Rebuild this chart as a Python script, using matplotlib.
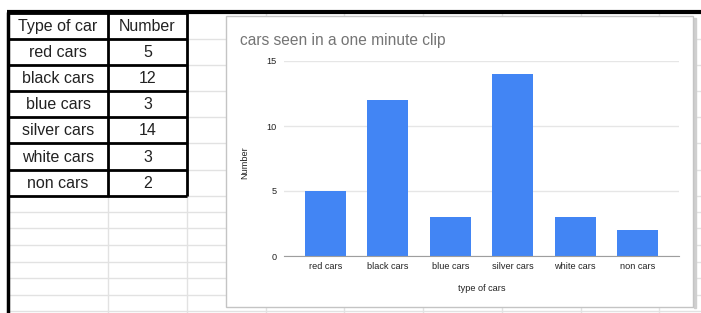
import matplotlib.pyplot as plt
from matplotlib.patches import Rectangle

# data from the sheet
car_types = ['red cars', 'black cars', 'blue cars', 'silver cars', 'white cars', 'non cars']
counts = [5, 12, 3, 14, 3, 2]
headers = ['Type of car', 'Number']
y_ticks = [0, 5, 10, 15]

plt.rcParams['font.family'] = ['Liberation Sans', 'DejaVu Sans']

W, H = 701, 313
fig = plt.figure(figsize=(W / 100, H / 100), dpi=100)

# background "spreadsheet" layer in pixel coordinates
bg = fig.add_axes([0, 0, 1, 1])
bg.set_xlim(0, W)
bg.set_ylim(H, 0)
bg.axis('off')

col_x = [8, 108, 187, 266, 344, 423, 502, 581, 659]
row_y = [13, 39, 65, 91, 117, 143, 170, 196, 212, 228, 245, 262, 278, 295, 311]
grid_c = '#e2e2e2'
bg.vlines(col_x[1:], 12, H, color=grid_c, lw=1)
bg.hlines(row_y[1:], 8, W, color=grid_c, lw=1)

# table cells
n_rows = len(car_types) + 1
tbl_top, tbl_bot = row_y[0], row_y[n_rows]
bg.hlines(row_y[:n_rows + 1], col_x[0], col_x[2], color='black', lw=2, zorder=3)
bg.vlines(col_x[1:3], tbl_top, tbl_bot, color='black', lw=2, zorder=3)
bg.vlines(col_x[0], tbl_top - 1, H, color='black', lw=2.5, zorder=3)
bg.hlines(11.5, 7, W, color='black', lw=3, zorder=3)

cells = [headers] + [[t, str(c)] for t, c in zip(car_types, counts)]
for i, row in enumerate(cells):
    yc = (row_y[i] + row_y[i + 1]) / 2 + 0.5
    for j, txt in enumerate(row):
        xc = (col_x[j] + col_x[j + 1]) / 2
        bg.text(xc, yc, txt, ha='center', va='center', fontsize=11.5, color='#222222')

# chart card
bg.add_patch(Rectangle((694, 18), 1.5, 290, color='#cfcfcf', zorder=4))
bg.add_patch(Rectangle((226, 16), 467, 291, facecolor='white', edgecolor='#c4c4c4', lw=1, zorder=5))

fig.text(240 / W, 1 - 40 / H, 'cars seen in a one minute clip', ha='left', va='center',
         fontsize=11.2, color='#757575', zorder=10)

ax = fig.add_axes([284 / W, (H - 256) / H, 395 / W, 195 / H], zorder=6)
ax.patch.set_alpha(0)
ax.bar(range(len(counts)), counts, width=0.66, color='#4285f4', zorder=3)
ax.set_xlim(-0.665, len(counts) - 1 + 0.665)
ax.set_ylim(0, 15)
ax.set_yticks(y_ticks)
ax.set_yticklabels([str(v) for v in y_ticks])
ax.set_xticks(range(len(car_types)))
ax.set_xticklabels(car_types)
ax.tick_params(axis='both', length=0, labelsize=6.6, labelcolor='#222222')
ax.tick_params(axis='x', pad=4)
ax.tick_params(axis='y', pad=5)
ax.grid(axis='y', color='#e6e6e6', lw=1, zorder=0)
for s in ['top', 'right', 'left']:
    ax.spines[s].set_visible(False)
ax.spines['bottom'].set_color('#9e9e9e')
ax.spines['bottom'].set_zorder(4)
ax.set_xlabel('type of cars', fontsize=6.6, color='#222222', labelpad=10)

fig.text(245 / W, 1 - 163 / H, 'Number', rotation=90, ha='center', va='center',
         fontsize=6.6, color='#222222', zorder=10)

fig.savefig('out.png', dpi=100)
